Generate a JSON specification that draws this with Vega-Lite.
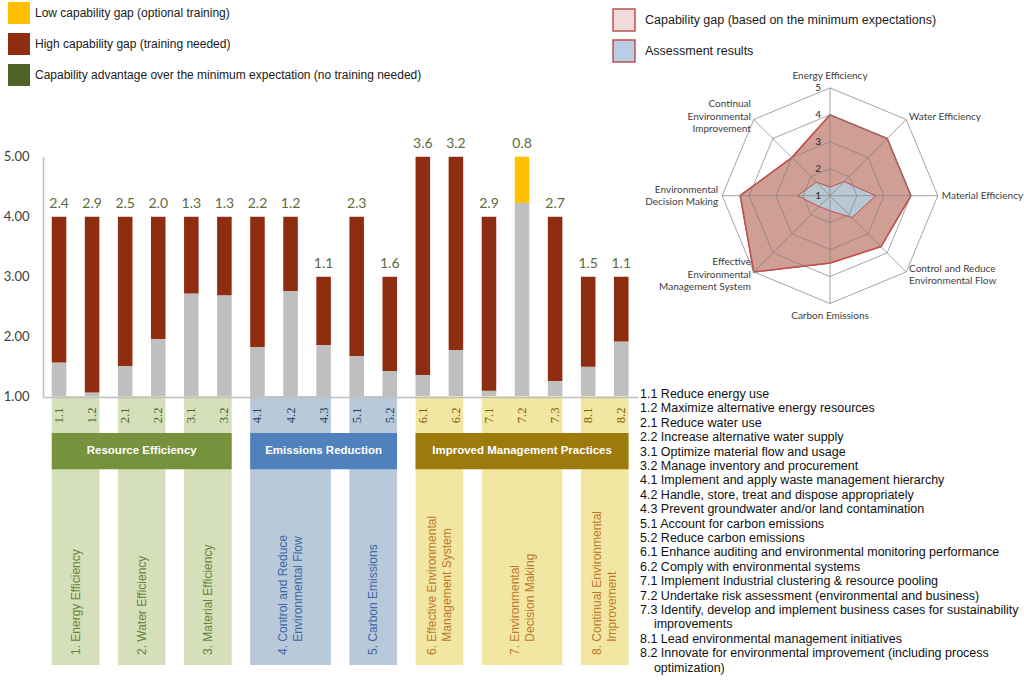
{
  "$schema": "https://vega.github.io/schema/vega-lite/v6.json",
  "width": 1024,
  "height": 680,
  "autosize": "none",
  "padding": 0,
  "config": {"view": {"stroke": null}, "font": "Liberation Sans", "axis": {"grid": false}},
  "datasets": {
    "bars": [
      {"id": "1.1", "score": 1.57, "target": 4, "gap": 2.4, "gapType": "High capability gap (training needed)"},
      {"id": "1.2", "score": 1.07, "target": 4, "gap": 2.9, "gapType": "High capability gap (training needed)"},
      {"id": "2.1", "score": 1.51, "target": 4, "gap": 2.5, "gapType": "High capability gap (training needed)"},
      {"id": "2.2", "score": 1.96, "target": 4, "gap": 2.0, "gapType": "High capability gap (training needed)"},
      {"id": "3.1", "score": 2.72, "target": 4, "gap": 1.3, "gapType": "High capability gap (training needed)"},
      {"id": "3.2", "score": 2.69, "target": 4, "gap": 1.3, "gapType": "High capability gap (training needed)"},
      {"id": "4.1", "score": 1.83, "target": 4, "gap": 2.2, "gapType": "High capability gap (training needed)"},
      {"id": "4.2", "score": 2.76, "target": 4, "gap": 1.2, "gapType": "High capability gap (training needed)"},
      {"id": "4.3", "score": 1.86, "target": 3, "gap": 1.1, "gapType": "High capability gap (training needed)"},
      {"id": "5.1", "score": 1.68, "target": 4, "gap": 2.3, "gapType": "High capability gap (training needed)"},
      {"id": "5.2", "score": 1.43, "target": 3, "gap": 1.6, "gapType": "High capability gap (training needed)"},
      {"id": "6.1", "score": 1.36, "target": 5, "gap": 3.6, "gapType": "High capability gap (training needed)"},
      {"id": "6.2", "score": 1.78, "target": 5, "gap": 3.2, "gapType": "High capability gap (training needed)"},
      {"id": "7.1", "score": 1.1, "target": 4, "gap": 2.9, "gapType": "High capability gap (training needed)"},
      {"id": "7.2", "score": 4.23, "target": 5, "gap": 0.8, "gapType": "Low capability gap (optional training)"},
      {"id": "7.3", "score": 1.26, "target": 4, "gap": 2.7, "gapType": "High capability gap (training needed)"},
      {"id": "8.1", "score": 1.5, "target": 3, "gap": 1.5, "gapType": "High capability gap (training needed)"},
      {"id": "8.2", "score": 1.92, "target": 3, "gap": 1.1, "gapType": "High capability gap (training needed)"}
    ],
    "groups": [
      {"group": "Resource Efficiency", "first": "1.1", "last": "3.2", "mid": "2.1", "n": 6},
      {"group": "Emissions Reduction", "first": "4.1", "last": "5.2", "mid": "4.3", "n": 5},
      {"group": "Improved Management Practices", "first": "6.1", "last": "8.2", "mid": "7.2", "n": 7}
    ],
    "areas": [
      {"num": 1, "group": "Resource Efficiency", "label": "1. Energy Efficiency", "first": "1.1", "last": "1.2", "mid": "1.1", "n": 2},
      {"num": 2, "group": "Resource Efficiency", "label": "2. Water Efficiency", "first": "2.1", "last": "2.2", "mid": "2.1", "n": 2},
      {"num": 3, "group": "Resource Efficiency", "label": "3. Material Efficiency", "first": "3.1", "last": "3.2", "mid": "3.1", "n": 2},
      {"num": 4, "group": "Emissions Reduction", "label": "4. Control and Reduce\n\u200b\u00a0\u00a0\u00a0\u00a0Environmental Flow", "first": "4.1", "last": "4.3", "mid": "4.2", "n": 3},
      {"num": 5, "group": "Emissions Reduction", "label": "5. Carbon Emissions", "first": "5.1", "last": "5.2", "mid": "5.1", "n": 2},
      {"num": 6, "group": "Improved Management Practices", "label": "6. Effective Environmental\n\u200b\u00a0\u00a0\u00a0\u00a0Management System", "first": "6.1", "last": "6.2", "mid": "6.1", "n": 2},
      {"num": 7, "group": "Improved Management Practices", "label": "7. Environmental\n\u200b\u00a0\u00a0\u00a0\u00a0Decision Making", "first": "7.1", "last": "7.3", "mid": "7.2", "n": 3},
      {"num": 8, "group": "Improved Management Practices", "label": "8. Continual Environmental\n\u200b\u00a0\u00a0\u00a0\u00a0Improvement", "first": "8.1", "last": "8.2", "mid": "8.1", "n": 2}
    ],
    "radarAxes": [
      {"num": 1, "label": "Energy Efficiency"},
      {"num": 2, "label": "Water Efficiency"},
      {"num": 3, "label": "Material Efficiency"},
      {"num": 4, "label": "Control and Reduce\nEnvironmental Flow"},
      {"num": 5, "label": "Carbon Emissions"},
      {"num": 6, "label": "Effective\nEnvironmental\nManagement System"},
      {"num": 7, "label": "Environmental\nDecision Making"},
      {"num": 8, "label": "Continual\nEnvironmental\nImprovement"}
    ],
    "radarGrid": [
      {"level": 1, "nums": [1, 2, 3, 4, 5, 6, 7, 8]},
      {"level": 2, "nums": [1, 2, 3, 4, 5, 6, 7, 8]},
      {"level": 3, "nums": [1, 2, 3, 4, 5, 6, 7, 8]},
      {"level": 4, "nums": [1, 2, 3, 4, 5, 6, 7, 8]},
      {"level": 5, "nums": [1, 2, 3, 4, 5, 6, 7, 8]}
    ],
    "radarValues": [
      {"num": 1, "series": "Capability gap (based on the minimum expectations)", "value": 4},
      {"num": 2, "series": "Capability gap (based on the minimum expectations)", "value": 4},
      {"num": 3, "series": "Capability gap (based on the minimum expectations)", "value": 4},
      {"num": 4, "series": "Capability gap (based on the minimum expectations)", "value": 3.67},
      {"num": 5, "series": "Capability gap (based on the minimum expectations)", "value": 3.5},
      {"num": 6, "series": "Capability gap (based on the minimum expectations)", "value": 5},
      {"num": 7, "series": "Capability gap (based on the minimum expectations)", "value": 4.33},
      {"num": 8, "series": "Capability gap (based on the minimum expectations)", "value": 3},
      {"num": 1, "series": "Assessment results", "value": 1.32},
      {"num": 2, "series": "Assessment results", "value": 1.74},
      {"num": 3, "series": "Assessment results", "value": 2.7},
      {"num": 4, "series": "Assessment results", "value": 2.15},
      {"num": 5, "series": "Assessment results", "value": 1.56},
      {"num": 6, "series": "Assessment results", "value": 1.57},
      {"num": 7, "series": "Assessment results", "value": 2.2},
      {"num": 8, "series": "Assessment results", "value": 1.71}
    ],
    "lines": [
      {"line": "1.1 Reduce energy use"},
      {"line": "1.2 Maximize alternative energy resources"},
      {"line": "2.1 Reduce water use"},
      {"line": "2.2 Increase alternative water supply"},
      {"line": "3.1 Optimize material flow and usage"},
      {"line": "3.2 Manage inventory and procurement"},
      {"line": "4.1 Implement and apply waste management hierarchy"},
      {"line": "4.2 Handle, store, treat and dispose appropriately"},
      {"line": "4.3 Prevent groundwater and/or land contamination"},
      {"line": "5.1 Account for carbon emissions"},
      {"line": "5.2 Reduce carbon emissions"},
      {"line": "6.1 Enhance auditing and environmental monitoring performance"},
      {"line": "6.2 Comply with environmental systems"},
      {"line": "7.1 Implement Industrial clustering & resource pooling"},
      {"line": "7.2 Undertake risk assessment (environmental and business)"},
      {"line": "7.3 Identify, develop and implement business cases for sustainability"},
      {"line": "\u200b\u00a0\u00a0\u00a0\u00a0improvements"},
      {"line": "8.1 Lead environmental management initiatives"},
      {"line": "8.2 Innovate for environmental improvement (including process"},
      {"line": "\u200b\u00a0\u00a0\u00a0\u00a0optimization)"}
    ]
  },
  "layer": [
    {
      "layer": [
        {
          "data": {"name": "bars"},
          "encoding": {
            "x": {
              "field": "id", "type": "nominal", "sort": "ascending",
              "scale": {"type": "band", "range": [42.5, 637.8], "paddingInner": 0.56, "paddingOuter": 0.28},
              "axis": {
                "title": null, "orient": "bottom", "offset": -283, "ticks": false, "zindex": 1,
                "domainColor": "#bfbfbf", "domainWidth": 1.5,
                "labelAngle": 270, "labelFont": "Liberation Serif", "labelFontSize": 12.5, "labelPadding": 10, "labelOverlap": false,
                "labelColor": {"condition": [{"test": "toNumber(datum.value) < 4", "value": "#4f6228"}, {"test": "toNumber(datum.value) < 6", "value": "#254061"}], "value": "#7f6000"}
              }
            }
          },
          "layer": [
            {
              "mark": {"type": "bar", "color": "#bfbfbf"},
              "encoding": {
                "y": {
                  "field": "score", "type": "quantitative",
                  "scale": {"domain": [1, 5], "range": [396.7, 156.7], "zero": false, "nice": false},
                  "axis": {
                    "title": null, "orient": "left", "offset": -43, "values": [1, 2, 3, 4, 5], "format": ".2f",
                    "ticks": false, "zindex": 1, "domainColor": "#bfbfbf", "domainWidth": 1.5,
                    "labelFont": "Lato", "labelFontSize": 13, "labelColor": "#404040", "labelPadding": 14
                  }
                },
                "y2": {"datum": 1}
              }
            },
            {
              "mark": {"type": "bar"},
              "encoding": {
                "y": {
                  "field": "score", "type": "quantitative",
                  "axis": {
                    "title": null, "orient": "left", "offset": -43, "values": [1, 2, 3, 4, 5], "format": ".2f",
                    "ticks": false, "zindex": 1, "domainColor": "#bfbfbf", "domainWidth": 1.5,
                    "labelFont": "Lato", "labelFontSize": 13, "labelColor": "#404040", "labelPadding": 14
                  }
                },
                "y2": {"field": "target"},
                "color": {
                  "field": "gapType", "type": "nominal",
                  "scale": {
                    "domain": ["Low capability gap (optional training)", "High capability gap (training needed)", "Capability advantage over the minimum expectation (no training needed)"],
                    "range": ["#ffc000", "#8f2d10", "#4f6228"]
                  },
                  "legend": {
                    "orient": "none", "legendX": 8, "legendY": 2, "title": null, "padding": 0,
                    "symbolType": "square", "symbolSize": 484, "symbolStrokeWidth": 0,
                    "labelFont": "Liberation Sans", "labelFontSize": 12, "labelColor": "#1a1a1a",
                    "labelOffset": 5, "rowPadding": 9, "labelLimit": 600
                  }
                }
              }
            },
            {
              "mark": {"type": "text", "dy": -13, "font": "Lato", "fontSize": 14, "color": "#5e6b3c", "baseline": "middle"},
              "encoding": {
                "y": {
                  "field": "target", "type": "quantitative",
                  "axis": {
                    "title": null, "orient": "left", "offset": -43, "values": [1, 2, 3, 4, 5], "format": ".2f",
                    "ticks": false, "zindex": 1, "domainColor": "#bfbfbf", "domainWidth": 1.5,
                    "labelFont": "Lato", "labelFontSize": 13, "labelColor": "#404040", "labelPadding": 14
                  }
                },
                "text": {"field": "gap", "type": "quantitative", "format": ".1f"}
              }
            }
          ]
        },
        {
          "layer": [
            {
              "data": {"name": "areas"},
              "mark": {"type": "rect"},
              "encoding": {
                "x": {"field": "first", "type": "nominal", "sort": "ascending", "bandPosition": 0},
                "x2": {"field": "last", "bandPosition": 1},
                "y": {"datum": 0, "type": "quantitative", "scale": {"domain": [0, 1], "range": [396, 665], "zero": false, "nice": false}, "axis": null},
                "y2": {"datum": 1},
                "fill": {"condition": [{"test": "datum.group === 'Resource Efficiency'", "value": "#d5e0bb"}, {"test": "datum.group === 'Emissions Reduction'", "value": "#b8c9d9"}], "value": "#f2e7a2"}
              }
            },
            {
              "data": {"name": "groups"},
              "mark": {"type": "rect"},
              "encoding": {
                "x": {"field": "first", "type": "nominal", "sort": "ascending", "bandPosition": 0},
                "x2": {"field": "last", "bandPosition": 1},
                "y": {"datum": 0.138, "type": "quantitative", "axis": null},
                "y2": {"datum": 0.272},
                "fill": {"condition": [{"test": "datum.group === 'Resource Efficiency'", "value": "#76923c"}, {"test": "datum.group === 'Emissions Reduction'", "value": "#4f81bd"}], "value": "#9c7b0c"}
              }
            },
            {
              "data": {"name": "groups"},
              "transform": [{"filter": "datum.n % 2 == 0"}],
              "mark": {"type": "text", "color": "white", "fontWeight": "bold", "fontSize": 11.5, "baseline": "middle", "align": "center"},
              "encoding": {
                "x": {"field": "mid", "type": "nominal", "sort": "ascending", "bandPosition": 1.636},
                "y": {"datum": 0.205, "type": "quantitative", "axis": null},
                "text": {"field": "group", "type": "nominal"}
              }
            },
            {
              "data": {"name": "groups"},
              "transform": [{"filter": "datum.n % 2 == 1"}],
              "mark": {"type": "text", "color": "white", "fontWeight": "bold", "fontSize": 11.5, "baseline": "middle", "align": "center"},
              "encoding": {
                "x": {"field": "mid", "type": "nominal", "sort": "ascending", "bandPosition": 0.5},
                "y": {"datum": 0.205, "type": "quantitative", "axis": null},
                "text": {"field": "group", "type": "nominal"}
              }
            },
            {
              "data": {"name": "areas"},
              "transform": [{"filter": "datum.n == 2 && indexof(datum.label, '\\n') < 0"}],
              "mark": {"type": "text", "angle": 270, "align": "left", "baseline": "middle", "fontSize": 12, "lineHeight": 15, "lineBreak": "\n"},
              "encoding": {
                "x": {"field": "mid", "type": "nominal", "sort": "ascending", "bandPosition": 1.636},
                "y": {"datum": 0.963, "type": "quantitative", "axis": null},
                "text": {"field": "label", "type": "nominal"},
                "color": {"condition": [{"test": "datum.group === 'Resource Efficiency'", "value": "#66853a"}, {"test": "datum.group === 'Emissions Reduction'", "value": "#3f66a6"}], "value": "#bf772e"}
              }
            },
            {
              "data": {"name": "areas"},
              "transform": [{"filter": "datum.n == 2 && indexof(datum.label, '\\n') >= 0"}],
              "mark": {"type": "text", "angle": 270, "align": "left", "baseline": "middle", "dy": -7.5, "fontSize": 12, "lineHeight": 15, "lineBreak": "\n"},
              "encoding": {
                "x": {"field": "mid", "type": "nominal", "sort": "ascending", "bandPosition": 1.636},
                "y": {"datum": 0.963, "type": "quantitative", "axis": null},
                "text": {"field": "label", "type": "nominal"},
                "color": {"condition": [{"test": "datum.group === 'Resource Efficiency'", "value": "#66853a"}, {"test": "datum.group === 'Emissions Reduction'", "value": "#3f66a6"}], "value": "#bf772e"}
              }
            },
            {
              "data": {"name": "areas"},
              "transform": [{"filter": "datum.n == 3"}],
              "mark": {"type": "text", "angle": 270, "align": "left", "baseline": "middle", "dy": -7.5, "fontSize": 12, "lineHeight": 15, "lineBreak": "\n"},
              "encoding": {
                "x": {"field": "mid", "type": "nominal", "sort": "ascending", "bandPosition": 0.5},
                "y": {"datum": 0.963, "type": "quantitative", "axis": null},
                "text": {"field": "label", "type": "nominal"},
                "color": {"condition": [{"test": "datum.group === 'Resource Efficiency'", "value": "#66853a"}, {"test": "datum.group === 'Emissions Reduction'", "value": "#3f66a6"}], "value": "#bf772e"}
              }
            }
          ]
        }
      ],
      "resolve": {"scale": {"y": "independent"}}
    },
    {
      "layer": [
        {
          "data": {"name": "radarValues"},
          "transform": [
            {"calculate": "(datum.num - 1) * PI / 4", "as": "angle"},
            {"calculate": "(datum.value - 1) * sin(datum.angle)", "as": "px"},
            {"calculate": "(datum.value - 1) * cos(datum.angle)", "as": "py"}
          ],
          "mark": {"type": "line", "interpolate": "linear-closed", "stroke": "#c0504d", "strokeWidth": 1.5},
          "encoding": {
            "x": {"field": "px", "type": "quantitative", "scale": {"domain": [-4, 4], "range": [722.2, 937.8], "zero": false, "nice": false}, "axis": null},
            "y": {"field": "py", "type": "quantitative", "scale": {"domain": [-4, 4], "range": [303.5, 87.9], "zero": false, "nice": false}, "axis": null},
            "order": {"field": "num", "type": "quantitative"},
            "fill": {
              "field": "series", "type": "nominal",
              "scale": {"domain": ["Capability gap (based on the minimum expectations)", "Assessment results"], "range": ["#f2dcdb", "#b9cde5"]},
              "legend": {
                "orient": "none", "legendX": 612, "legendY": 8, "title": null, "padding": 0,
                "symbolType": "square", "symbolSize": 484, "symbolStrokeColor": "#c0504d", "symbolStrokeWidth": 1.5,
                "labelFont": "Liberation Sans", "labelFontSize": 12.5, "labelColor": "#1a1a1a",
                "labelOffset": 9, "rowPadding": 3, "labelLimit": 600
              }
            }
          }
        },
        {
          "data": {"name": "radarValues"},
          "transform": [
            {"filter": "datum.series === 'Capability gap (based on the minimum expectations)'"},
            {"calculate": "(datum.num - 1) * PI / 4", "as": "angle"},
            {"calculate": "(datum.value - 1) * sin(datum.angle)", "as": "px"},
            {"calculate": "(datum.value - 1) * cos(datum.angle)", "as": "py"}
          ],
          "mark": {"type": "line", "interpolate": "linear-closed", "fill": "#cf9e95", "stroke": "#c0504d", "strokeWidth": 1.5},
          "encoding": {
            "x": {"field": "px", "type": "quantitative", "axis": null},
            "y": {"field": "py", "type": "quantitative", "axis": null},
            "order": {"field": "num", "type": "quantitative"}
          }
        },
        {
          "data": {"name": "radarValues"},
          "transform": [
            {"filter": "datum.series === 'Assessment results'"},
            {"calculate": "(datum.num - 1) * PI / 4", "as": "angle"},
            {"calculate": "(datum.value - 1) * sin(datum.angle)", "as": "px"},
            {"calculate": "(datum.value - 1) * cos(datum.angle)", "as": "py"}
          ],
          "mark": {"type": "line", "interpolate": "linear-closed", "fill": "#b8c8d2", "stroke": "#c0504d", "strokeWidth": 1},
          "encoding": {
            "x": {"field": "px", "type": "quantitative", "axis": null},
            "y": {"field": "py", "type": "quantitative", "axis": null},
            "order": {"field": "num", "type": "quantitative"}
          }
        },
        {
          "data": {"name": "radarGrid"},
          "transform": [
            {"flatten": ["nums"], "as": ["num"]},
            {"calculate": "(datum.num - 1) * PI / 4", "as": "angle"},
            {"calculate": "(datum.level - 1) * sin(datum.angle)", "as": "gx"},
            {"calculate": "(datum.level - 1) * cos(datum.angle)", "as": "gy"}
          ],
          "mark": {"type": "line", "interpolate": "linear-closed", "stroke": "#7f7f7f", "strokeWidth": 1, "opacity": 0.7},
          "encoding": {
            "x": {"field": "gx", "type": "quantitative", "axis": null},
            "y": {"field": "gy", "type": "quantitative", "axis": null},
            "detail": {"field": "level", "type": "nominal"},
            "order": {"field": "num", "type": "quantitative"}
          }
        },
        {
          "data": {"name": "radarGrid"},
          "transform": [
            {"flatten": ["nums"], "as": ["num"]},
            {"calculate": "(datum.num - 1) * PI / 4", "as": "angle"},
            {"calculate": "(datum.level - 1) * sin(datum.angle)", "as": "gx"},
            {"calculate": "(datum.level - 1) * cos(datum.angle)", "as": "gy"}
          ],
          "mark": {"type": "line", "stroke": "#7f7f7f", "strokeWidth": 1, "opacity": 0.7},
          "encoding": {
            "x": {"field": "gx", "type": "quantitative", "axis": null},
            "y": {"field": "gy", "type": "quantitative", "axis": null},
            "detail": {"field": "num", "type": "nominal"},
            "order": {"field": "level", "type": "quantitative"}
          }
        },
        {
          "data": {"name": "radarGrid"},
          "transform": [{"calculate": "datum.level - 1", "as": "ty"}],
          "mark": {"type": "text", "align": "right", "baseline": "middle", "dx": -9, "font": "Lato", "fontSize": 10, "color": "#262626"},
          "encoding": {
            "x": {"datum": 0, "type": "quantitative", "axis": null},
            "y": {"field": "ty", "type": "quantitative", "axis": null},
            "text": {"field": "level", "type": "nominal"}
          }
        },
        {
          "data": {"name": "radarAxes"},
          "transform": [
            {"filter": "datum.num >= 2 && datum.num <= 4"},
            {"calculate": "(datum.num - 1) * PI / 4", "as": "angle"},
            {"calculate": "length(split(datum.label, '\\n'))", "as": "nl"},
            {"calculate": "4.15 * sin(datum.angle)", "as": "lx"},
            {"calculate": "4.15 * cos(datum.angle) + (datum.nl - 1) * 6.2 / 26.95", "as": "ly"}
          ],
          "mark": {"type": "text", "align": "left", "baseline": "middle", "font": "Lato", "fontSize": 10, "lineHeight": 12.4, "lineBreak": "\n", "color": "#404040"},
          "encoding": {
            "x": {"field": "lx", "type": "quantitative", "axis": null},
            "y": {"field": "ly", "type": "quantitative", "axis": null},
            "text": {"field": "label", "type": "nominal"}
          }
        },
        {
          "data": {"name": "radarAxes"},
          "transform": [
            {"filter": "datum.num >= 6"},
            {"calculate": "(datum.num - 1) * PI / 4", "as": "angle"},
            {"calculate": "length(split(datum.label, '\\n'))", "as": "nl"},
            {"calculate": "4.15 * sin(datum.angle)", "as": "lx"},
            {"calculate": "4.15 * cos(datum.angle) + (datum.nl - 1) * 6.2 / 26.95", "as": "ly"}
          ],
          "mark": {"type": "text", "align": "right", "baseline": "middle", "font": "Lato", "fontSize": 10, "lineHeight": 12.4, "lineBreak": "\n", "color": "#404040"},
          "encoding": {
            "x": {"field": "lx", "type": "quantitative", "axis": null},
            "y": {"field": "ly", "type": "quantitative", "axis": null},
            "text": {"field": "label", "type": "nominal"}
          }
        },
        {
          "data": {"name": "radarAxes"},
          "transform": [
            {"filter": "datum.num == 1 || datum.num == 5"},
            {"calculate": "(datum.num - 1) * PI / 4", "as": "angle"},
            {"calculate": "4.45 * sin(datum.angle)", "as": "lx"},
            {"calculate": "4.45 * cos(datum.angle)", "as": "ly"}
          ],
          "mark": {"type": "text", "align": "center", "baseline": "middle", "font": "Lato", "fontSize": 10, "color": "#404040"},
          "encoding": {
            "x": {"field": "lx", "type": "quantitative", "axis": null},
            "y": {"field": "ly", "type": "quantitative", "axis": null},
            "text": {"field": "label", "type": "nominal"}
          }
        }
      ]
    },
    {
      "data": {"name": "lines"},
      "mark": {"type": "text", "align": "left", "baseline": "middle", "fontSize": 12.5, "color": "#111111"},
      "encoding": {
        "x": {"datum": 0, "type": "quantitative", "scale": {"domain": [0, 1], "range": [640, 1000], "zero": false, "nice": false}, "axis": null},
        "y": {"field": "line", "type": "nominal", "sort": null, "scale": {"type": "point", "range": [394, 667.6], "padding": 0}, "axis": null},
        "text": {"field": "line", "type": "nominal"}
      }
    }
  ],
  "resolve": {"scale": {"x": "independent", "y": "independent"}}
}
